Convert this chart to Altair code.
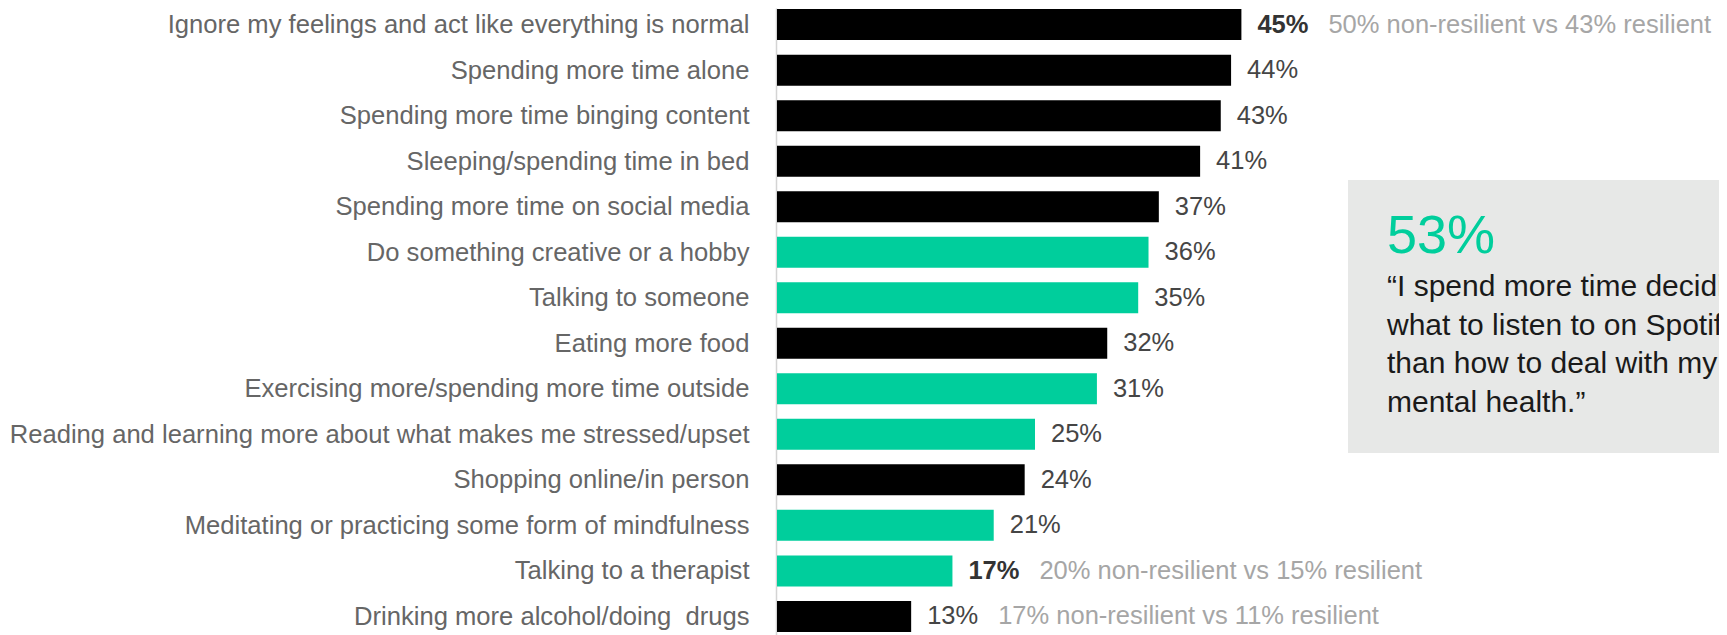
import json
import altair as alt
import pandas as pd

# ---- data ----
categories = [
    "Ignore my feelings and act like everything is normal",
    "Spending more time alone",
    "Spending more time binging content",
    "Sleeping/spending time in bed",
    "Spending more time on social media",
    "Do something creative or a hobby\u00a0",
    "Talking to someone\u00a0",
    "Eating more food",
    "Exercising more/spending more time outside\u00a0",
    "Reading and learning more about what makes me stressed/upset",
    "Shopping online/in person",
    "Meditating or practicing some form of mindfulness",
    "Talking to a therapist\u00a0",
    "Drinking more alcohol/doing\u00a0 drugs\u00a0",
]
values = [45, 44, 43, 41, 37, 36, 35, 32, 31, 25, 24, 21, 17, 13]
kinds = ["avoid", "avoid", "avoid", "avoid", "avoid", "healthy", "healthy",
         "avoid", "healthy", "healthy", "avoid", "healthy", "healthy", "avoid"]
emphasis = [True, False, False, False, False, False, False,
            False, False, False, False, False, True, False]
notes = ["50% non-resilient vs 43% resilient", "", "", "", "", "", "",
         "", "", "", "", "", "20% non-resilient vs 15% resilient",
         "17% non-resilient vs 11% resilient"]

callout_number = "53%"
callout_lines = ["\u201cI spend more time deciding",
                 "what to listen to on Spotify",
                 "than how to deal with my",
                 "mental health.\u201d"]

df = pd.DataFrame({
    "row": list(range(len(categories))),
    "value": values,
    "kind": kinds,
    "bold": emphasis,
    "note": notes,
})

GREEN = "#00CE9C"
FONT = "Liberation Sans"
W, H = 942, 627
px_per_pct = 10.32
step = 46.26
first_center = 11.8

d0 = -first_center / step
d1 = d0 + H / step

xscale = alt.Scale(domain=[0, W / px_per_pct], nice=False, zero=True)
yscale = alt.Scale(domain=[d0, d1], reverse=True, nice=False, zero=False)

label_expr = json.dumps(categories, ensure_ascii=False) + "[datum.value]"
yaxis = alt.Axis(
    values=list(range(len(categories))),
    labelExpr=label_expr,
    title=None,
    ticks=False,
    tickSize=0,
    grid=False,
    labelFont=FONT,
    labelFontSize=25.6,
    labelColor="#666666",
    labelPadding=27,
    labelOverlap=False,
    labelLimit=0,
    domainColor="#d4d4d4",
    domainWidth=1.5,
    offset=1,
)

X = alt.X("value:Q", scale=xscale, axis=None)
Y = alt.Y("row:Q", scale=yscale, axis=yaxis)

base = alt.Chart(df)

bars = base.mark_bar(orient="horizontal", size=31, clip=True).encode(
    x=X, y=Y,
    color=alt.Color("kind:N", scale=alt.Scale(domain=["avoid", "healthy"],
                                              range=["#000000", GREEN]),
                    legend=None),
)

pct = base.transform_calculate(label="datum.value + '%'")

val_normal = pct.transform_filter("!datum.bold").mark_text(
    align="left", baseline="middle", dx=16, font=FONT, fontSize=25.5,
    color="#454545").encode(x=X, y=Y, text="label:N")

val_bold = pct.transform_filter("datum.bold").mark_text(
    align="left", baseline="middle", dx=16, font=FONT, fontSize=25.5,
    fontWeight="bold", color="#333333").encode(x=X, y=Y, text="label:N")

note_layer = base.transform_filter("datum.note != ''").mark_text(
    align="left", baseline="middle", dx=87, font=FONT, fontSize=25.5,
    color="#A6A6A6").encode(x=X, y=Y, text="note:N")

one = pd.DataFrame({"k": [0]})

box = alt.Chart(one).mark_rect(color="#E7E8E7").encode(
    x=alt.value(571), x2=alt.value(W), y=alt.value(172), y2=alt.value(445))

big = alt.Chart(one).mark_text(
    text=callout_number, align="left", baseline="alphabetic", font=FONT,
    fontSize=54, color=GREEN).encode(x=alt.value(610), y=alt.value(245))

quote = alt.Chart(one).mark_text(
    text=callout_lines, align="left", baseline="alphabetic", font=FONT,
    fontSize=30, lineHeight=38.5, color="#1a1a1a").encode(
    x=alt.value(610), y=alt.value(288))

chart = alt.layer(box, bars, val_normal, val_bold, note_layer, big, quote).properties(
    width=W, height=H,
    autosize=alt.AutoSizeParams(type="none"),
    padding={"left": 769, "top": 0, "right": 0, "bottom": 0},
).configure_view(stroke=None)

chart.save("out.html", embed_options={"renderer": "svg", "actions": False})
